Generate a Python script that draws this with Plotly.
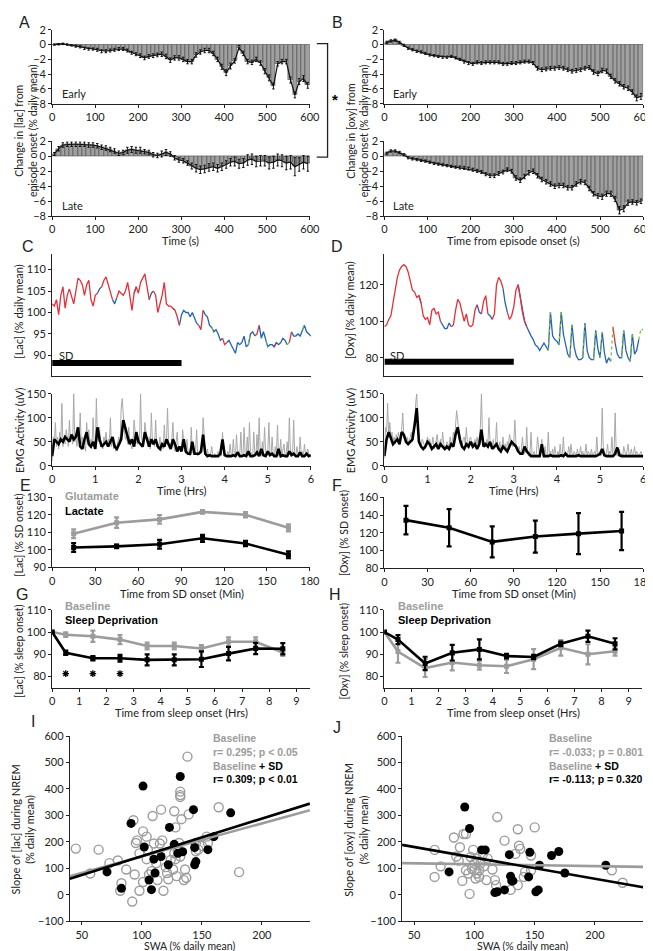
import numpy as np
import plotly.graph_objects as go

# ---------------- DATA ----------------
# Panels A/B: change from episode onset, 10-s bins (centres in s)
bin_s = [5, 15, 25, 35, 45, 55, 65, 75, 85, 95, 105, 115, 125, 135, 145, 155, 165, 175, 185, 195,
         205, 215, 225, 235, 245, 255, 265, 275, 285, 295, 305, 315, 325, 335, 345, 355, 365, 375, 385, 395,
         405, 415, 425, 435, 445, 455, 465, 475, 485, 495, 505, 515, 525, 535, 545, 555, 565, 575, 585, 595]
lac_early = [0.0, 0.05, 0.1, 0.0, -0.1, -0.2, -0.3, -0.5, -0.6, -0.6,
             -0.7, -0.9, -0.9, -0.8, -0.7, -0.6, -0.6, -0.8, -1.1, -1.3,
             -1.5, -1.8, -1.6, -1.5, -1.4, -1.3, -1.6, -2.1, -1.8, -1.8,
             -2.0, -2.3, -2.3, -1.4, -1.0, -0.8, -0.8, -1.2, -2.0, -3.0,
             -3.8, -2.9, -2.2, -0.4, -1.2, -2.3, -2.4, -2.0, -2.5, -3.6,
             -4.5, -5.6, -2.6, -2.3, -2.3, -4.8, -6.8, -5.0, -4.6, -5.5]
lac_early_err = [0.1, 0.1, 0.1, 0.1, 0.1, 0.15, 0.15, 0.15, 0.15, 0.15,
                 0.2, 0.2, 0.2, 0.2, 0.2, 0.2, 0.2, 0.2, 0.2, 0.2,
                 0.25, 0.25, 0.25, 0.25, 0.25, 0.3, 0.3, 0.3, 0.3, 0.3,
                 0.3, 0.3, 0.3, 0.3, 0.3, 0.3, 0.3, 0.3, 0.3, 0.35,
                 0.4, 0.4, 0.3, 0.3, 0.3, 0.3, 0.3, 0.3, 0.3, 0.35,
                 0.4, 0.4, 0.3, 0.3, 0.3, 0.4, 0.4, 0.4, 0.4, 0.4]
lac_late = [0.3, 1.0, 1.5, 1.6, 1.6, 1.6, 1.6, 1.6, 1.5, 1.5,
            1.4, 1.2, 1.1, 0.9, 0.7, 0.4, 0.5, 0.8, 0.9, 0.8,
            0.8, 0.6, 0.5, 0.2, 0.1, 0.3, 0.5, 0.3, -0.2, -0.5,
            -0.6, -0.9, -1.3, -1.6, -1.8, -1.7, -1.5, -1.4, -1.6, -1.4,
            -1.1, -0.8, -0.7, -1.0, -0.9, -0.5, -0.4, -0.7, -0.6, -0.6,
            -0.9, -0.8, -0.5, -0.6, -0.9, -0.8, -1.4, -1.1, -0.8, -1.0]
lac_late_err = [0.2, 0.3, 0.3, 0.3, 0.3, 0.3, 0.3, 0.3, 0.3, 0.3,
                0.3, 0.3, 0.3, 0.3, 0.3, 0.3, 0.3, 0.4, 0.4, 0.4,
                0.4, 0.3, 0.3, 0.3, 0.3, 0.4, 0.4, 0.3, 0.3, 0.3,
                0.3, 0.3, 0.4, 0.5, 0.5, 0.5, 0.5, 0.5, 0.5, 0.5,
                0.5, 0.5, 0.6, 0.6, 0.6, 0.7, 0.7, 0.7, 0.7, 0.7,
                0.8, 0.8, 0.8, 0.8, 0.9, 0.9, 1.2, 0.9, 0.9, 1.0]
oxy_early = [0.3, 0.5, 0.6, 0.3, -0.1, -0.5, -0.7, -0.9, -1.0, -1.2,
             -1.4, -1.5, -1.6, -1.7, -1.7, -1.6, -1.8, -2.0, -2.3, -2.5,
             -2.6, -2.4, -2.5, -2.4, -2.4, -2.4, -2.4, -2.6, -2.6, -2.5,
             -2.5, -2.4, -2.3, -2.3, -2.5, -3.2, -3.4, -3.3, -3.2, -3.2,
             -3.1, -3.2, -3.4, -3.6, -3.5, -3.4, -3.2, -3.1, -3.7, -3.9,
             -3.5, -3.6, -4.3, -4.9, -5.3, -5.7, -5.9, -6.4, -7.2, -7.0]
oxy_early_err = [0.15, 0.15, 0.15, 0.15, 0.15, 0.15, 0.15, 0.15, 0.15, 0.15,
                 0.15, 0.15, 0.15, 0.15, 0.15, 0.15, 0.15, 0.15, 0.2, 0.2,
                 0.2, 0.2, 0.2, 0.2, 0.2, 0.2, 0.2, 0.2, 0.2, 0.2,
                 0.2, 0.2, 0.2, 0.2, 0.2, 0.25, 0.25, 0.25, 0.25, 0.25,
                 0.25, 0.25, 0.25, 0.25, 0.25, 0.25, 0.25, 0.25, 0.3, 0.3,
                 0.3, 0.3, 0.3, 0.3, 0.3, 0.3, 0.3, 0.3, 0.4, 0.4]
oxy_late = [0.4, 0.7, 0.7, 0.5, 0.2, -0.2, -0.35, -0.45, -0.55, -0.65,
            -0.8, -0.95, -1.05, -1.15, -1.25, -1.35, -1.45, -1.5, -1.55, -1.65,
            -1.8, -1.95, -2.1, -2.4, -2.6, -2.6, -2.3, -2.1, -1.8, -2.0,
            -2.9, -3.2, -2.7, -2.2, -2.0, -2.6, -3.1, -3.4, -3.7, -4.0,
            -3.9, -3.9, -4.2, -4.2, -3.7, -3.4, -3.5, -4.3, -5.0, -5.3,
            -5.4, -5.0, -5.0, -5.7, -7.2, -7.0, -6.2, -6.1, -6.2, -6.0]
oxy_late_err = [0.15, 0.15, 0.15, 0.15, 0.15, 0.15, 0.15, 0.15, 0.15, 0.15,
                0.15, 0.15, 0.15, 0.15, 0.15, 0.15, 0.15, 0.2, 0.2, 0.2,
                0.2, 0.2, 0.2, 0.2, 0.25, 0.25, 0.25, 0.25, 0.25, 0.25,
                0.3, 0.3, 0.3, 0.3, 0.3, 0.3, 0.3, 0.3, 0.3, 0.3,
                0.3, 0.3, 0.3, 0.3, 0.3, 0.3, 0.3, 0.3, 0.3, 0.3,
                0.35, 0.35, 0.35, 0.35, 0.5, 0.4, 0.35, 0.3, 0.3, 0.3]

# Panels C/D: 6-h recordings (3-min samples)
trace_hrs = list(np.round(np.arange(121) * 0.05, 3))
lac_trace = [102, 101.5, 103, 99.5, 104, 106, 101, 104, 105.5, 104,
             102, 105, 108, 107.5, 106.5, 104, 106.5, 107.5, 103, 101.5,
             104, 104.5, 105.5, 106, 107.5, 108.3, 106.5, 105, 103, 102,
             103.5, 105, 104.5, 104, 105, 107, 104, 100.5, 104.5, 106,
             104.5, 107, 108, 109, 106, 103, 104.5, 105, 104, 100,
             102, 104, 107, 102, 101.5, 101.5, 101, 100.5, 99, 97,
             99.5, 100.5, 100, 100, 99, 100, 98.5, 97.5, 97, 96,
             100.5, 99.5, 99, 97, 96.5, 95.5, 96, 95, 93.5, 94,
             92.5, 93, 93.5, 92.5, 91.5, 90.5, 93, 92.5, 93, 94.5,
             92, 92.5, 95, 95.5, 94.5, 95, 97, 94, 95.5, 93.5,
             92, 92.5, 92.5, 92, 93, 92.5, 93, 94, 93.5, 92.5,
             93, 95.5, 94.5, 94.5, 95, 94.5, 96, 97, 95.5, 95,
             94.5]
lac_states = ("WWWWWWWWWWWWWWWWWWWWWW" "NN" "WWWWW" "NN" "WWWWWWWW" "N" "WWWWWW" "NN"
              "WWWWWWWWW" "N" "WW" "NNNNNNNNN" "WW" "NNNN" "R" "NNNN" "WW" "NNNNNNNNNN"
              "R" "NN" "WW" "NNN" "R" "NNN" "W" "NNNNN" "R" "W" "NNNNN" "R" "NNN")
oxy_trace = [97, 98, 101, 103, 110, 118, 124, 128, 130, 131,
             130, 127, 121, 117, 116, 113, 114, 110, 103, 101,
             102, 98, 106, 107, 104, 105, 100, 98, 96, 96,
             99, 97, 98, 106, 112, 110, 105, 100, 104, 98,
             97, 98, 106, 109, 105, 104, 111, 114, 104, 103,
             101, 104, 120, 124, 122, 118, 110, 105, 101, 103,
             108, 117, 120, 113, 105, 100, 97, 94, 92, 90,
             87, 86, 84, 86, 88, 86, 84, 105, 92, 90,
             89, 87, 105, 93, 88, 82, 80, 98, 86, 81,
             79, 79, 80, 99, 84, 80, 79, 79, 95, 85,
             80, 94, 83, 77, 80, 78, 97, 88, 82, 80,
             80, 95, 84, 80, 78, 93, 82, 84, 90, 96,
             95]
oxy_states = ("WWWWWWWWWWWWWWWWW" "N" "WWWWWWWWW" "NNNNN" "WWWWWWWWWWWW" "NN" "WWW" "NN"
              "WWWWW" "NN" "WWWWW" "N" "W" "N" "W" "NNNNNNNNN" "N" "R" "NNNN" "R" "NNNN" "R"
              "NNNNN" "R" "NNNN" "R" "NN" "R" "NNNN" "R" "W" "NNN" "R" "NNN" "R" "NNN" "RR")
sd_period_hrs = [0, 3]
sd_bar_lac = 88.2
sd_bar_oxy = 77.8

emg_hrs_fine = list(np.round(np.arange(241) * 0.025, 3))
emg_c_raw = [10, 60, 45, 90, 40, 60, 35, 70, 50, 130, 40, 55, 45, 75, 60, 40, 95, 50, 65, 45,
             150, 50, 60, 40, 70, 55, 110, 45, 60, 35, 40, 30, 90, 50, 75, 40, 55, 45, 100, 40,
             35, 140, 60, 50, 80, 40, 45, 35, 60, 50, 70, 40, 55, 45, 100, 40, 60, 35, 45, 30,
             40, 55, 60, 45, 120, 140, 90, 70, 55, 60, 45, 80, 50, 40, 35, 50, 95, 70, 50, 45,
             55, 45, 150, 60, 40, 45, 90, 70, 50, 40, 60, 35, 110, 50, 45, 40, 95, 45, 35, 40,
             60, 30, 45, 35, 85, 40, 50, 120, 45, 35, 40, 55, 90, 40, 30, 45, 70, 35, 40, 30,
             30, 75, 45, 30, 25, 55, 30, 25, 20, 80, 30, 25, 25, 30, 75, 20, 25, 30, 25, 30,
             100, 45, 25, 20, 35, 20, 20, 25, 40, 20, 20, 25, 20, 20, 30, 20, 25, 20, 70, 35,
             20, 25, 20, 30, 20, 45, 25, 20, 55, 25, 20, 65, 25, 30, 20, 70, 25, 20, 80, 25,
             25, 60, 20, 90, 30, 25, 20, 70, 25, 20, 65, 25, 100, 30, 20, 50, 25, 80, 30, 20,
             25, 90, 30, 20, 60, 25, 20, 40, 25, 85, 20, 25, 55, 20, 30, 45, 20, 25, 50, 20,
             100, 25, 30, 20, 95, 25, 20, 40, 25, 20, 60, 25, 30, 20, 45, 25, 20, 35, 25, 20,
             20]
emg_c_smooth = [20, 55, 50, 45, 55, 50, 60, 55, 50, 65,
                55, 60, 80, 40, 35, 55, 70, 45, 40, 50,
                35, 80, 55, 40, 45, 50, 40, 50, 60, 40,
                35, 45, 55, 95, 75, 60, 45, 55, 40, 70,
                50, 45, 40, 70, 55, 40, 55, 45, 55, 40,
                35, 45, 40, 55, 45, 35, 55, 45, 30, 40,
                30, 55, 30, 25, 25, 50, 25, 25, 25, 30,
                65, 25, 20, 22, 20, 20, 20, 20, 25, 55,
                22, 20, 20, 20, 22, 20, 28, 20, 20, 22,
                20, 30, 20, 20, 22, 28, 20, 35, 22, 20,
                30, 22, 25, 20, 20, 35, 20, 22, 20, 20,
                30, 22, 25, 20, 20, 28, 20, 20, 25, 20,
                22]
emg_d_raw = [15, 80, 70, 130, 60, 90, 55, 70, 50, 60, 45, 65, 50, 70, 55, 60, 75, 110, 60, 55,
             50, 60, 45, 55, 60, 70, 50, 65, 80, 130, 150, 80, 60, 45, 40, 55, 50, 40, 35, 50,
             60, 45, 55, 40, 45, 60, 35, 40, 50, 65, 40, 45, 55, 40, 70, 45, 40, 35, 50, 45,
             40, 60, 45, 50, 70, 55, 90, 115, 95, 60, 45, 50, 40, 55, 60, 45, 80, 50, 40, 55,
             60, 45, 50, 40, 55, 45, 60, 40, 55, 80, 150, 60, 45, 50, 40, 55, 45, 100, 50, 45,
             40, 55, 35, 45, 90, 40, 35, 50, 30, 40, 60, 35, 45, 30, 50, 40, 65, 55, 45, 40,
             50, 95, 45, 35, 30, 40, 25, 30, 60, 35, 25, 30, 80, 25, 20, 25, 70, 20, 25, 30,
             20, 25, 60, 30, 20, 25, 55, 20, 25, 40, 20, 20, 70, 25, 30, 20, 35, 20, 40, 25,
             20, 30, 20, 45, 20, 25, 60, 20, 30, 20, 25, 40, 20, 45, 25, 20, 30, 25, 20, 35,
             20, 25, 40, 20, 30, 20, 25, 45, 20, 30, 25, 20, 35, 20, 25, 30, 20, 60, 25, 20,
             25, 20, 120, 40, 30, 20, 25, 45, 20, 30, 25, 60, 20, 25, 110, 30, 20, 25, 35, 20,
             25, 20, 40, 25, 20, 30, 45, 20, 25, 35, 20, 25, 40, 20, 30, 25, 20, 25, 30, 20,
             20]
emg_d_smooth = [20, 55, 70, 55, 45, 50, 55, 45, 70, 65,
                50, 45, 50, 55, 85, 120, 50, 40, 35, 40,
                50, 45, 35, 40, 45, 35, 45, 40, 35, 40,
                35, 45, 40, 65, 80, 55, 40, 35, 45, 40,
                50, 40, 45, 35, 45, 75, 40, 45, 40, 50,
                35, 40, 45, 35, 30, 40, 35, 30, 40, 50,
                45, 40, 30, 25, 25, 40, 30, 25, 20, 20,
                20, 20, 20, 45, 20, 20, 20, 22, 20, 20,
                20, 20, 22, 20, 25, 20, 20, 20, 20, 20,
                22, 20, 20, 20, 20, 20, 20, 20, 20, 22,
                25, 35, 22, 20, 20, 20, 20, 25, 38, 22,
                20, 20, 20, 20, 20, 20, 20, 20, 20, 20,
                20]

# Panels E/F: % of SD onset
sd_min = [15, 45, 75, 105, 135, 165]
glu_sd = [109.2, 115.5, 117.4, 121.7, 120.0, 112.6]
glu_sd_err = [2.5, 3.0, 2.5, 1.0, 1.5, 2.0]
lac_sd = [101.3, 102.0, 103.2, 106.6, 103.6, 97.2]
lac_sd_err = [2.5, 1.0, 2.5, 2.0, 1.5, 2.0]
oxy_sd = [134.3, 125.8, 109.8, 115.8, 119.1, 122.1]
oxy_sd_err = [16, 21, 17.5, 18, 23, 21.5]

# Panels G/H: % of sleep onset
sleep_hrs = [0, 0.5, 1.5, 2.5, 3.5, 4.5, 5.5, 6.5, 7.5, 8.5]
lac_base = [100, 98.8, 98.1, 96.6, 93.7, 93.7, 92.6, 95.6, 95.6, 90.8]
lac_base_err = [0, 1.0, 2.5, 2.0, 1.5, 1.5, 1.5, 2.0, 2.0, 1.5]
lac_sdep = [100, 90.7, 88.2, 88.2, 87.5, 87.5, 87.8, 90.3, 92.6, 92.5]
lac_sdep_err = [0, 1.0, 1.0, 1.5, 2.5, 2.5, 3.5, 3.0, 2.5, 2.5]
sig_hrs = [0.5, 1.5, 2.5]
sig_level = [81.3, 81.3, 81.3]
oxy_base = [100, 91.2, 83.8, 86.3, 85.1, 84.6, 87.8, 92.9, 90.0, 91.4]
oxy_base_err = [0, 5.0, 4.0, 3.5, 2.0, 3.0, 4.5, 3.5, 4.5, 2.0]
oxy_sdep = [100, 96.6, 85.9, 90.7, 92.2, 89.2, 88.8, 94.7, 98.1, 94.7]
oxy_sdep_err = [0, 2.0, 3.0, 3.5, 4.5, 1.0, 1.0, 1.0, 2.5, 2.5]

# Panels I/J: slope vs SWA
I_base_x = [45, 64, 57, 73, 80, 87, 83, 82, 92, 94, 93, 95, 96, 98, 101, 101, 104, 104, 105, 106,
            109, 110, 112, 113, 115, 116, 117, 118, 120, 121, 122, 124, 126, 127, 128, 129, 130, 131, 132, 132,
            132, 133, 135, 136, 137, 138, 139, 145, 147, 154, 155, 164, 181, 132, 127, 98, 108, 128, 145, 150]
I_base_y = [175, 171, 81, 120, 130, 96, 44, 16, -25, 77, 282, 196, 206, 16, 240, 49, 220, 135, 171, 77,
            298, 194, 120, 56, 194, 322, 206, 16, 105, 83, 59, 132, 96, 316, 255, 71, 169, 196, 390, 377,
            370, 286, 56, 96, 65, 522, 304, 196, 171, 220, 196, 331, 86, 145, 157, 157, 90, 135, 165, 185]
I_sd_x = [71, 83, 91, 101, 102, 106, 108, 110, 111, 116, 123, 122, 127, 130, 134, 132, 143, 144, 144, 145, 155, 160, 174]
I_sd_y = [87, 25, 270, 411, 181, 56, 20, 135, 83, 145, 255, 114, 191, 157, 163, 447, 322, 179, 114, 126, 171, 220, 310]
J_base_x = [67, 67, 72, 83, 85, 87, 88, 91, 93, 90, 93, 95, 96, 97, 99, 100, 100, 101, 102, 104,
            105, 107, 108, 110, 111, 115, 117, 118, 119, 125, 130, 134, 136, 136, 137, 138, 141, 142, 147, 147,
            150, 214, 223, 102, 104, 98]
J_base_y = [170, 68, 108, 217, 145, 130, 180, 230, 230, 53, 93, 81, 4, 143, 170, 118, 93, 62, 137, 68,
            118, 155, 108, 56, 137, 96, 56, 37, 294, 205, 19, 155, 248, 37, 186, 174, 68, 87, 93, 149,
            255, 93, 46, 81, 93, 99]
J_sd_x = [79, 92, 96, 106, 109, 117, 119, 125, 129, 130, 131, 132, 145, 146, 151, 153, 154, 164, 170, 175, 209]
J_sd_y = [87, 332, 251, 170, 170, 9, 12, 19, 152, 71, 53, 53, 68, 161, 12, 19, 112, 149, 164, 83, 112]
fit_x = [40, 240]
I_base_fit = [71, 320]
I_sd_fit = [61, 345]
J_base_fit = [120, 106]
J_sd_fit = [189, 29]

# ---------------- STYLE / LAYOUT ----------------
W, H = 653, 951
FONT = "Lato"
BOLD = "Liberation Sans"
TXT = "#222222"
GRAY = "#9c9c9c"
BARGRAY = "#a0a0a0"
STATE_COL = {"N": "#2563b0", "W": "#e3303a", "R": "#7cc043"}


def X(p):
    return p / W


def Y(p):
    return 1 - p / H


fig = go.Figure()


def axes(n, x0, x1, ytop, ybot, xr, yr, xt=None, yt=None, xlabels=True, xticks=True):
    sfx = "" if n == 1 else str(n)
    base = dict(showline=True, linecolor=TXT, linewidth=1, tickwidth=1, ticklen=3,
                tickcolor=TXT, showgrid=False, zeroline=False, fixedrange=True,
                tickfont=dict(family=FONT, size=11, color=TXT))
    xa = dict(base, domain=[X(x0), X(x1)], range=xr, anchor="y" + sfx,
              ticks="outside" if xticks else "", showticklabels=xlabels)
    if xt is not None:
        xa["tickvals"] = xt
    ya = dict(base, domain=[Y(ybot), Y(ytop)], range=yr, anchor="x" + sfx, ticks="outside")
    if yt is not None:
        ya["tickvals"] = yt
    fig.layout["xaxis" + sfx] = xa
    fig.layout["yaxis" + sfx] = ya
    return "x" + sfx, "y" + sfx


def bars(vals, errs, xa, ya):
    fig.add_trace(go.Bar(x=bin_s, y=vals, width=10, xaxis=xa, yaxis=ya,
                         marker=dict(color=BARGRAY, line=dict(color="#4a4a4a", width=0.6)),
                         error_y=dict(type="data", array=errs, color="#111", thickness=1, width=1.2)))
    fig.add_trace(go.Scatter(x=bin_s, y=vals, mode="lines", line=dict(color="#111", width=1.2),
                             xaxis=xa, yaxis=ya))


t100 = [0, 100, 200, 300, 400, 500, 600]
yA = [2, 0, -2, -4, -6, -8]
xa, ya = axes(1, 42, 305, 15, 90, [0, 600], [-8, 2], t100, yA)
bars(lac_early, lac_early_err, xa, ya)
xa, ya = axes(2, 42, 305, 128, 204, [0, 600], [-8, 2], t100, yA)
bars(lac_late, lac_late_err, xa, ya)
xa, ya = axes(3, 381, 645, 15, 90, [0, 600], [-8, 2], t100, yA)
bars(oxy_early, oxy_early_err, xa, ya)
xa, ya = axes(4, 381, 645, 128, 204, [0, 600], [-8, 2], t100, yA)
bars(oxy_late, oxy_late_err, xa, ya)


def state_trace(y, states, xa, ya):
    states = (states + "N" * len(y))[:len(y)]
    for s in ["N", "W", "R"]:
        ys = [y[i] if (states[i] == s or (i + 1 < len(y) and states[i + 1] == s)) else None
              for i in range(len(y))]
        fig.add_trace(go.Scatter(x=trace_hrs, y=ys, mode="lines", connectgaps=False,
                                 line=dict(color=STATE_COL[s], width=1.3, dash="dot" if s == "R" else "solid"),
                                 xaxis=xa, yaxis=ya))


xa, ya = axes(5, 42, 306, 242, 366, [0, 6], [85.2, 113.7], None, [90, 95, 100, 105, 110], xlabels=False, xticks=False)
state_trace(lac_trace, lac_states, xa, ya)
fig.add_trace(go.Scatter(x=sd_period_hrs, y=[sd_bar_lac, sd_bar_lac], mode="lines",
                         line=dict(color="black", width=6), xaxis=xa, yaxis=ya))
xa, ya = axes(7, 381, 645, 242, 366, [0, 6], [70, 137], None, [80, 100, 120], xlabels=False, xticks=False)
state_trace(oxy_trace, oxy_states, xa, ya)
fig.add_trace(go.Scatter(x=sd_period_hrs, y=[sd_bar_oxy, sd_bar_oxy], mode="lines",
                         line=dict(color="black", width=6), xaxis=xa, yaxis=ya))

for n, x0, x1, raw, sm in [(6, 42, 306, emg_c_raw, emg_c_smooth), (8, 381, 645, emg_d_raw, emg_d_smooth)]:
    xa, ya = axes(n, x0, x1, 384, 457, [0, 6], [0, 150], [0, 1, 2, 3, 4, 5, 6], [0, 50, 100, 150])
    fig.add_trace(go.Scatter(x=emg_hrs_fine, y=raw, mode="lines", line=dict(color="#a8a8a8", width=1),
                             xaxis=xa, yaxis=ya))
    fig.add_trace(go.Scatter(x=trace_hrs, y=sm, mode="lines", line=dict(color="black", width=2.6),
                             xaxis=xa, yaxis=ya))


def err_line(x, y, e, color, xa, ya, w=2.6):
    fig.add_trace(go.Scatter(x=x, y=y, mode="lines+markers",
                             line=dict(color=color, width=w),
                             marker=dict(color=color, size=5, symbol="square"),
                             error_y=dict(type="data", array=e, color=color, thickness=2.2, width=2.5),
                             xaxis=xa, yaxis=ya))


t30 = [0, 30, 60, 90, 120, 150, 180]
xa, ya = axes(9, 42, 305, 489, 560, [0, 180], [90, 130], t30, [90, 100, 110, 120, 130])
err_line(sd_min, glu_sd, glu_sd_err, GRAY, xa, ya)
err_line(sd_min, lac_sd, lac_sd_err, "black", xa, ya)
xa, ya = axes(10, 381, 645, 489, 561, [0, 180], [80, 160], t30, [80, 100, 120, 140, 160])
err_line(sd_min, oxy_sd, oxy_sd_err, "black", xa, ya)

t9 = list(range(10))
xa, ya = axes(11, 42, 305, 603, 682, [0, 9.5], [75, 110], t9, [80, 90, 100, 110])
err_line(sleep_hrs, lac_base, lac_base_err, GRAY, xa, ya)
err_line(sleep_hrs, lac_sdep, lac_sdep_err, "black", xa, ya)
fig.add_trace(go.Scatter(x=sig_hrs, y=sig_level, mode="markers",
                         marker=dict(symbol="asterisk-open", size=5.5, color="black",
                                     line=dict(color="black", width=1.3)),
                         xaxis=xa, yaxis=ya))
xa, ya = axes(12, 381, 644, 603, 682, [0, 9.5], [75, 110], t9, [80, 90, 100, 110])
err_line(sleep_hrs, oxy_base, oxy_base_err, GRAY, xa, ya)
err_line(sleep_hrs, oxy_sdep, oxy_sdep_err, "black", xa, ya)


def scatter_panel(n, x0, x1, bx, by, sx, sy, bfit, sfit):
    xa, ya = axes(n, x0, x1, 731, 919, [40, 240], [-100, 600], [50, 100, 150, 200],
                  [-100, 0, 100, 200, 300, 400, 500, 600])
    fig.add_trace(go.Scatter(x=bx, y=by, mode="markers",
                             marker=dict(symbol="circle-open", size=9, color=GRAY, line=dict(width=1.4)),
                             xaxis=xa, yaxis=ya))
    fig.add_trace(go.Scatter(x=sx, y=sy, mode="markers",
                             marker=dict(symbol="circle", size=9, color="black"), xaxis=xa, yaxis=ya))
    fig.add_trace(go.Scatter(x=fit_x, y=bfit, mode="lines", line=dict(color=GRAY, width=2.6),
                             xaxis=xa, yaxis=ya))
    fig.add_trace(go.Scatter(x=fit_x, y=sfit, mode="lines", line=dict(color="black", width=2.6),
                             xaxis=xa, yaxis=ya))


scatter_panel(13, 60, 305, I_base_x, I_base_y, I_sd_x, I_sd_y, I_base_fit, I_sd_fit)
scatter_panel(14, 399, 645, J_base_x, J_base_y, J_sd_x, J_sd_y, J_base_fit, J_sd_fit)


# ---------------- TEXT ----------------
def txt(x, y, s, size=11, color=TXT, family=FONT, angle=0, xanchor="center"):
    fig.add_annotation(x=X(x), y=Y(y), xref="paper", yref="paper", text=s, showarrow=False,
                       font=dict(family=family, size=size, color=color), textangle=angle,
                       xanchor=xanchor, yanchor="middle", align="center")


for lab, x, y in [("A", 14, 8), ("B", 333, 8), ("C", 17, 235), ("D", 333, 235), ("E", 15, 477),
                  ("F", 333, 477), ("G", 11, 588), ("H", 331, 588), ("I", 22, 716), ("J", 333, 722)]:
    txt(x, y, lab, size=16, family="Liberation Sans")

txt(50, 80, "Early", xanchor="left")
txt(50, 193, "Late", xanchor="left")
txt(388, 80, "Early", xanchor="left")
txt(388, 193, "Late", xanchor="left")
txt(16, 117, "Change in [lac] from<br>episode onset (% daily mean)", size=10.5, angle=-90)
txt(354, 117, "Change in [oxy] from<br>episode onset (% daily mean)", size=10.5, angle=-90)
txt(173, 229, "Time (s)")
txt(513, 229, "Time from episode onset (s)")
txt(8, 300, "[Lac] (% daily mean)", angle=-90)
txt(346, 299, "[Oxy] (% daily mean)", angle=-90)
txt(8, 421, "EMG Activity (uV)", angle=-90)
txt(346, 421, "EMG Activity (uV)", angle=-90)
txt(47, 345, "SD", xanchor="left")
txt(385, 345, "SD", xanchor="left")
txt(174, 482, "Time (Hrs)")
txt(513, 482, "Time (Hrs)")
txt(8, 527, "[Lac] (% SD onset)", size=10.5, angle=-90)
txt(340, 525, "[Oxy] (% SD onset)", size=10.5, angle=-90)
txt(174, 587, "Time from SD onset (Min)")
txt(513, 587, "Time from SD onset (Min)")
txt(53, 488, "<b>Glutamate</b>", color=GRAY, family=BOLD, xanchor="left")
txt(53, 503, "<b>Lactate</b>", color="black", family=BOLD, xanchor="left")
txt(8, 645, "[Lac] (% sleep onset)", size=10.5, angle=-90)
txt(340, 645, "[Oxy] (% sleep onset)", size=10.5, angle=-90)
txt(53, 599, "<b>Baseline</b>", color=GRAY, family=BOLD, xanchor="left")
txt(53, 613, "<b>Sleep Deprivation</b>", color="black", family=BOLD, xanchor="left")
txt(393, 599, "<b>Baseline</b>", color=GRAY, family=BOLD, xanchor="left")
txt(393, 613, "<b>Sleep Deprivation</b>", color="black", family=BOLD, xanchor="left")
txt(174, 707, "Time from sleep onset (Hrs)")
txt(513, 707, "Time from sleep onset (Hrs)")
txt(12, 826, "Slope of [lac] during NREM<br>(% daily mean)", angle=-90)
txt(352, 826, "Slope of [oxy] during NREM<br>(% daily mean)", angle=-90)
txt(182, 944, "SWA (% daily mean)", size=10.5)
txt(522, 944, "SWA (% daily mean)", size=10.5)
for x0, l1, l2 in [(204, "r= 0.295; p < 0.05", "r= 0.309; p < 0.01"),
                   (547, "r= -0.033; p = 0.801", "r= -0.113; p = 0.320")]:
    txt(x0, 733, "<b>Baseline</b>", color=GRAY, family=BOLD, size=10.5, xanchor="left")
    txt(x0, 747, "<b>" + l1 + "</b>", color=GRAY, family=BOLD, size=10.5, xanchor="left")
    txt(x0, 761, "<b><span style='color:#9c9c9c'>Baseline</span> + SD</b>", color="black",
        family=BOLD, size=10.5, xanchor="left")
    txt(x0, 775, "<b>" + l2 + "</b>", color="black", family=BOLD, size=10.5, xanchor="left")

# significance bracket between A and B
fig.add_shape(type="path", xref="paper", yref="paper",
              path=f"M {X(312)} {Y(29)} L {X(323)} {Y(29)} L {X(323)} {Y(144)} L {X(312)} {Y(144)}",
              line=dict(color=TXT, width=1.3))
txt(331, 86, "<b>*</b>", size=15, color="black", family=BOLD)

fig.update_layout(width=W, height=H, margin=dict(l=0, r=0, t=0, b=0), autosize=False,
                  plot_bgcolor="white", paper_bgcolor="white", showlegend=False,
                  bargap=0, barmode="overlay")
fig.write_html("out.html")
